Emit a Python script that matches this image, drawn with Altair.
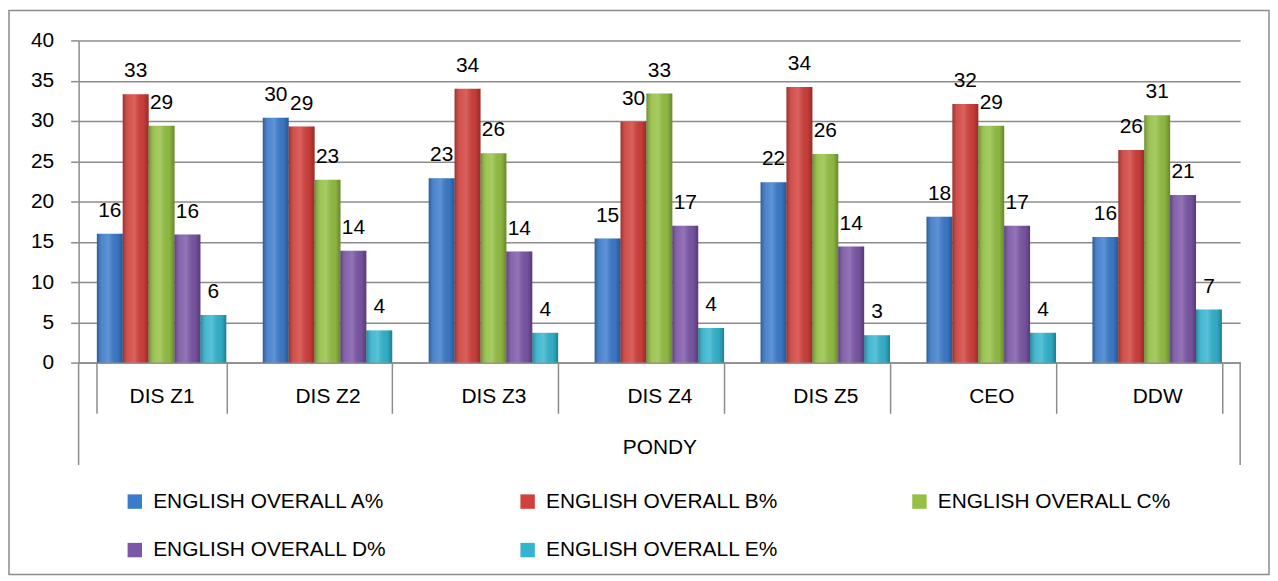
import altair as alt
import pandas as pd

categories = ["DIS Z1", "DIS Z2", "DIS Z3", "DIS Z4", "DIS Z5", "CEO", "DDW"]
series = ["ENGLISH OVERALL A%", "ENGLISH OVERALL B%", "ENGLISH OVERALL C%",
          "ENGLISH OVERALL D%", "ENGLISH OVERALL E%"]
vals_a = [16.0, 30.4, 22.9, 15.4, 22.4, 18.1, 15.6]
vals_b = [33.3, 29.3, 34.0, 29.9, 34.2, 32.1, 26.4]
vals_c = [29.4, 22.7, 26.0, 33.4, 25.9, 29.4, 30.7]
vals_d = [15.9, 13.9, 13.8, 17.0, 14.4, 17.0, 20.8]
vals_e = [5.9, 4.0, 3.7, 4.3, 3.4, 3.7, 6.6]
colors = ["#3b7bcc", "#d1403b", "#94c043", "#7c56a7", "#33b4cf"]

rows = []
for s, vals in zip(series, [vals_a, vals_b, vals_c, vals_d, vals_e]):
    for c, v in zip(categories, vals):
        rows.append({"cat": c, "series": s, "value": v})
df = pd.DataFrame(rows)

FONT = "Liberation Sans"
GRID = "#8c8c8c"
W, H = 1168, 324

x = alt.X("cat:N", sort=categories,
          scale=alt.Scale(paddingInner=0.22, paddingOuter=0.11),
          axis=alt.Axis(title="PONDY", labelAngle=0, tickBand="extent", tickSize=51,
                        labelPadding=-28, labelFontSize=21, labelFont=FONT, labelColor="#000",
                        domainColor=GRID, tickColor=GRID, domainWidth=1.5, tickWidth=1.5,
                        titleFont=FONT, titleFontSize=21, titleFontWeight="normal",
                        titleColor="#000", titleY=74, titleBaseline="top"))
xo = alt.XOffset("series:N", sort=series)
y = alt.Y("value:Q", scale=alt.Scale(domain=[0, 40]),
          axis=alt.Axis(values=list(range(0, 45, 5)), title=None, tickSize=8,
                        labelPadding=17, labelFontSize=21, labelFont=FONT, labelColor="#000",
                        domainColor=GRID, tickColor=GRID, gridColor=GRID,
                        domainWidth=1.5, tickWidth=1.5, gridWidth=1.5))

base = alt.Chart(df)

bars = base.mark_bar().encode(
    x=x, xOffset=xo, y=y,
    color=alt.Color("series:N", sort=series,
                    scale=alt.Scale(domain=series, range=colors),
                    legend=alt.Legend(title=None, orient="none", legendX=46, legendY=H + 129,
                                      direction="horizontal", padding=0,
                                      columns=3, columnPadding=131, rowPadding=27,
                                      symbolType="square", symbolSize=210,
                                      symbolStrokeWidth=0, labelFont=FONT,
                                      labelFontSize=21, labelColor="#000",
                                      labelOffset=8, labelLimit=0)),
)

shade = base.mark_bar(fill={
    "gradient": "linear", "x1": 0, "x2": 1, "y1": 0, "y2": 0,
    "stops": [
        {"offset": 0, "color": "rgba(0,0,0,0.28)"},
        {"offset": 0.25, "color": "rgba(255,255,255,0.10)"},
        {"offset": 0.45, "color": "rgba(255,255,255,0.18)"},
        {"offset": 0.8, "color": "rgba(0,0,0,0.05)"},
        {"offset": 1, "color": "rgba(0,0,0,0.30)"},
    ]}).encode(x=x, xOffset=xo, y=y)

labels = base.mark_text(dy=-17, baseline="alphabetic", font=FONT, fontSize=21,
                        color="#000").encode(
    x=x, xOffset=xo, y=y, text=alt.Text("value:Q", format=".0f"))

one = alt.Data(values=[{"f": 1}])
edge_l = alt.Chart(one).mark_rule(color=GRID, strokeWidth=1.5).encode(
    x=alt.value(0), y=alt.value(H), y2=alt.value(H + 103))
edge_r = alt.Chart(one).mark_rule(color=GRID, strokeWidth=1.5).encode(
    x=alt.value(W), y=alt.value(H), y2=alt.value(H + 103))

frame = alt.Chart(one).mark_rect(
    fill=None, stroke=GRID, strokeWidth=1.5).encode(
    x=alt.value(-70), x2=alt.value(1197), y=alt.value(-30), y2=alt.value(H + 213))

chart = alt.layer(bars, shade, labels, edge_l, edge_r, frame).properties(
    width=W, height=H, padding={"top": 0, "left": 0, "right": 0, "bottom": 0},
    background="#ffffff"
).configure_view(stroke=None)

chart.save("out.html", embed_options={"renderer": "svg", "actions": False})
